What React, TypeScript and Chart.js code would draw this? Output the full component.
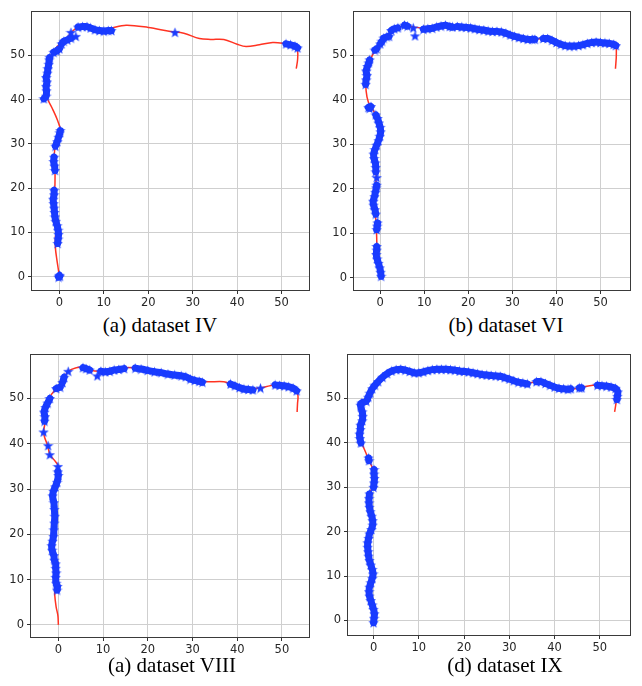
import React, { useEffect, useRef } from "react";
import { Chart, registerables } from "chart.js";

Chart.register(...registerables);

type Pt = [number, number] | null;

const xTicks = [0, 10, 20, 30, 40, 50];
const yTicks = [0, 10, 20, 30, 40, 50];
const captions = ["(a) dataset IV", "(b) dataset VI", "(a) dataset VIII", "(d) dataset IX"];

// ---------- dataset IV ----------
const truthIV: Pt[] = [
  [0, 0], [-0.3, 2], [-0.6, 4], [-0.9, 6.5], [-0.9, 9], [-0.6, 11], [-0.7, 14], [-1.1, 18], [-1.0, 21],
  [-1.0, 24], [-1.2, 27], [-0.8, 30], [0.2, 33], [-0.5, 35.5], [-1.6, 38], [-2.8, 40.5], [-3.0, 43],
  [-2.7, 46], [-2.3, 49], [-1.3, 51], [0.0, 52.5], [1.5, 53.8], [3.0, 55.5], [4.5, 56.5], [6.5, 56.3],
  [9.0, 55.6], [11.5, 56.1], [15.0, 56.8], [20.0, 56.3], [25.0, 55.4], [28.0, 55.0], [31.5, 53.8],
  [34.0, 53.6], [37.0, 53.6], [40.0, 52.5], [42.0, 52.0], [45.0, 52.4], [48.0, 52.9], [50.5, 52.7],
  [53.0, 52.2], [53.6, 51.0], [53.6, 49.0], [53.3, 47.0],
];
const starsIV: Pt[] = [
  [-0.2, -0.1], [0.1, 0.1], [0.0, 0.3], null,
  [-0.4, 7.5], [-0.3, 8.5], [-0.2, 9.5], [-0.3, 10.5], [-0.5, 11.5], [-0.8, 12.5], [-1.0, 13.5],
  [-1.1, 14.5], [-1.2, 15.5], [-1.3, 16.5], [-1.4, 17.5], [-1.2, 18.5], [-1.2, 19.5], null,
  [-1.0, 24], [-1.1, 25], [-1.3, 26], [-1.2, 27], null,
  [-0.9, 29.5], [-0.5, 30.5], [-0.2, 31.5], [0.1, 32.5], [0.2, 33], null,
  [-3.5, 40.2], [-3.0, 40.8], [-2.9, 42], [-3.0, 43], [-2.8, 44], [-3.0, 45], [-2.7, 46], [-2.6, 47],
  [-2.4, 48], [-2.3, 49], [-2.2, 49.5], null,
  [-1.3, 50.7], [-0.6, 51], [0.0, 51.5], null,
  [0.5, 52.6], [1.0, 53.2], [1.8, 53.5], [2.6, 53.9], null,
  [2.6, 55.2], null, [3.7, 54.3], null,
  [4.2, 56.4], [5.2, 56.5], [6.2, 56.5], [7.0, 56.2], [8.0, 55.8], [9.0, 55.6], [10.0, 55.5], [11.0, 55.6], [11.7, 55.6], null,
  [26.0, 55.2], null,
  [51.0, 52.6], [52.0, 52.4], [53.0, 52.1], [53.6, 51.7],
];

// ---------- dataset VI ----------
const truthVI: Pt[] = [
  [0, 0], [-0.3, 3], [-0.7, 6], [-0.8, 9], [-0.9, 12], [-1.2, 15], [-1.3, 18], [-1.0, 21], [-0.9, 24],
  [-1.1, 27], [-0.6, 30], [-0.3, 33], [-0.6, 35.5], [-1.5, 37.5], [-2.7, 39.5], [-3.2, 42], [-3.2, 44.5],
  [-2.7, 47.5], [-1.8, 50], [-0.6, 52], [1.0, 53.8], [3.0, 55.6], [5.5, 56.7], [8.0, 56.3], [11.0, 56.2],
  [14.0, 56.6], [17.0, 56.7], [20.0, 56.3], [25.0, 55.5], [28.0, 55.1], [31.5, 53.9], [34.0, 53.6],
  [37.0, 53.7], [40.0, 52.6], [42.0, 52.1], [45.0, 52.3], [48.0, 52.9], [51.0, 52.7], [53.3, 52.3],
  [53.6, 50.5], [53.4, 47.0],
];
const starsVI: Pt[] = [
  [0.2, 0.3], [0.1, 1.2], [-0.1, 2.2], [-0.4, 3.2], [-0.7, 4.2], [-0.9, 5.2], [-0.8, 6.2], [-0.8, 7.0], null,
  [-0.8, 10.8], [-0.7, 11.6], [-0.6, 12.3], null,
  [-1.0, 14.3], [-1.2, 15.3], [-1.5, 16.3], [-1.6, 17.2], [-1.3, 18.2], [-1.1, 19.2], [-0.9, 20.2], [-0.8, 20.8], null,
  [-0.8, 22.5], null,
  [-1.0, 23.8], [-1.0, 24.8], [-1.1, 25.8], [-1.4, 26.8], [-1.5, 27.8], [-1.2, 28.8], [-0.8, 29.8],
  [-0.4, 30.8], [-0.1, 31.8], [0.1, 32.8], [0.0, 33.8], [-0.3, 34.8], [-0.6, 35.8], [-1.0, 36.6], null,
  [-2.7, 38.3], [-2.4, 38.1], [-2.1, 38.5], null,
  [-3.3, 43.5], [-3.2, 44.5], [-3.0, 45.5], [-3.2, 46.5], [-2.9, 47.5], [-2.6, 48.3], [-2.4, 49], null,
  [-1.2, 51.2], [-0.8, 51.5], null,
  [0.0, 52.6], [0.4, 53.2], null,
  [0.8, 53.9], [1.5, 54.2], [2.0, 54.3], null,
  [2.5, 55.6], [3.2, 56.0], [4.0, 56.2], null,
  [5.5, 56.8], [6.2, 56.6], null, [7.5, 56.2], null, [7.9, 54.4], null,
  [9.8, 55.9], [10.8, 56.0], [11.8, 56.1], [12.8, 56.4], [13.8, 56.6], [14.8, 56.8], [15.8, 56.5], [16.4, 56.4], null,
  [17.5, 56.5], [18.5, 56.4], [19.5, 56.3], [20.5, 56.2], [21.5, 56.0], [22.5, 55.8], [23.5, 55.7],
  [24.5, 55.5], [25.5, 55.4], [26.5, 55.4], [27.5, 55.3], [28.5, 55.0], [29.5, 54.6], [30.5, 54.3],
  [31.5, 54.0], [32.5, 53.8], [33.5, 53.6], [34.5, 53.6], [35.1, 53.6], null,
  [37.0, 53.8], [38.0, 53.8], [39.0, 53.4], [40.0, 52.9], [41.0, 52.5], [42.0, 52.2], [43.0, 52.1],
  [44.0, 52.1], [45.0, 52.2], [46.0, 52.4], [47.0, 52.7], [48.0, 52.9], [49.0, 53.0], [50.0, 52.9],
  [51.0, 52.8], [52.0, 52.7], [53.0, 52.5], [53.5, 52.2],
];

// ---------- dataset VIII ----------
const truthVIII: Pt[] = [
  [0, 0], [-0.1, 2], [-0.5, 4], [-0.8, 6.5], [-0.8, 9], [-0.7, 12], [-0.9, 15], [-1.2, 18], [-1.0, 21],
  [-0.8, 24], [-0.9, 27], [-0.7, 30], [-0.2, 33], [0.0, 35], [-1.0, 36.5], [-1.9, 37.6], [-2.4, 39.6],
  [-3.1, 41.5], [-3.3, 42.6], [-3.0, 44.5], [-2.7, 47], [-2.0, 50], [-0.8, 51.8], [0.5, 52.6],
  [1.1, 54.2], [2.2, 56], [4.0, 56.8], [5.5, 56.8], [7.0, 56.3], [9.0, 56.0], [12.0, 56.2], [15.0, 56.8],
  [17.5, 56.7], [20.0, 56.2], [25.0, 55.4], [28.0, 55.0], [31.0, 54.2], [33.0, 53.7], [37.0, 53.7],
  [39.0, 53.0], [42.0, 52.1], [44.0, 52.2], [46.0, 52.5], [48.5, 53.0], [51.0, 52.6], [53.2, 51.8],
  [53.6, 50.5], [53.5, 49.0], [53.4, 47.0],
];
const starsVIII: Pt[] = [
  [-0.3, 7.7], [-0.2, 8.5], [-0.5, 9.2], [-0.6, 10.5], [-0.5, 11.5], [-0.6, 12.5], [-0.6, 13.5], [-0.9, 14.3],
  [-1.0, 15.3], [-1.4, 16.5], [-1.5, 17.5], [-1.3, 18.5], [-1.1, 19.5], [-1.0, 21], [-0.9, 22.5],
  [-0.8, 24], [-0.9, 25.5], [-1.0, 27], [-1.3, 28.5], [-1.1, 29.5], [-0.7, 30.5], [-0.3, 31.5],
  [0.0, 33], [-0.1, 33.8], null,
  [-0.1, 35], null, [-1.9, 37.6], null, [-2.3, 39.6], null, [-3.3, 42.6], null,
  [-3.1, 45], [-3.0, 46], [-3.2, 47], [-2.9, 48], [-2.4, 49], [-1.9, 50], null,
  [-0.5, 52.2], [0.4, 52.5], null, [0.9, 53.5], [1.3, 54.7], null, [2.2, 56], null,
  [5.5, 56.8], [6.2, 56.6], [7.0, 56.3], null,
  [8.7, 55.0], null,
  [9.5, 56.0], [10.5, 55.9], [11.5, 56.0], [12.5, 56.3], [13.5, 56.4], [14.7, 56.6], null,
  [17.2, 56.7], [18.5, 56.5], [20.0, 56.2], [21.5, 55.9], [23.0, 55.7], [24.5, 55.4], [26.0, 55.2],
  [27.5, 55.0], [28.5, 54.8], [29.5, 54.3], [30.5, 54.0], [31.5, 53.8], [32.2, 53.6], null,
  [38.5, 53.2], [39.5, 52.8], [40.5, 52.4], [41.5, 52.1], [42.5, 52.0], [43.5, 51.9], null,
  [45.2, 52.3], null,
  [48.5, 53.0], [49.5, 52.9], [50.5, 52.8], [51.5, 52.6], [52.5, 52.3], [53.3, 51.7],
];

// ---------- dataset IX ----------
const truthIX: Pt[] = [
  [0, 0], [0, 2], [-0.5, 4.5], [-0.9, 6.5], [-0.5, 8.5], [-0.1, 10.5], [-0.6, 13], [-1.1, 15.5],
  [-1.2, 18], [-0.6, 20.5], [-0.2, 22.5], [-0.6, 25], [-0.9, 27.5], [-0.7, 29], [0.0, 30.5], [0.1, 33],
  [-0.3, 34.5], [-1.0, 36], [-1.8, 38], [-2.6, 40], [-3.0, 42], [-2.8, 44], [-2.5, 46], [-2.7, 48],
  [-2.2, 49.3], [-1.0, 51], [0.3, 53], [2.0, 54.8], [4.0, 56.2], [6.0, 56.6], [8.0, 56.1], [10.0, 55.8],
  [12.0, 56.3], [15.0, 56.6], [18.0, 56.4], [21.0, 56.0], [25.0, 55.3], [28.0, 55.0], [31.0, 54.0],
  [33.0, 53.5], [35.0, 53.6], [37.0, 53.8], [40.0, 52.6], [43.0, 52.1], [44.5, 52.2], [46.0, 52.5],
  [48.5, 53.0], [51.0, 52.8], [53.3, 52.3], [53.9, 51.0], [53.7, 49.5], [53.3, 47.0],
];
const starsIX: Pt[] = [
  [0.0, -0.5], [0.1, 0.5], [0.2, 1.5], [0.0, 2.5], [-0.3, 3.5], [-0.6, 4.5], [-0.9, 5.5], [-1.0, 6.5],
  [-0.9, 7.5], [-0.6, 8.5], [-0.3, 9.5], [-0.1, 10.5], [-0.3, 11.5], [-0.6, 12.5], [-0.9, 13.5],
  [-1.1, 14.5], [-1.2, 15.5], [-1.3, 16.5], [-1.3, 17.5], [-1.1, 18.5], [-0.9, 19.5], [-0.5, 20.5],
  [-0.2, 21.5], [-0.2, 22.5], [-0.4, 23.5], [-0.7, 24.5], [-0.9, 25.5], [-1.0, 26.5], [-1.0, 27.5],
  [-0.9, 28.5], null,
  [0.0, 30], [0.1, 31], [0.2, 32], [0.1, 33], [0.1, 34], null,
  [-1.0, 36], [-1.1, 36.6], null,
  [-2.8, 40], [-3.0, 41], [-3.1, 42], [-2.9, 43], [-2.9, 44], [-2.5, 45], [-2.4, 46], [-2.5, 47],
  [-2.9, 48.5], [-2.6, 49], [-1.6, 49.4], [-1.2, 50.3], [-0.8, 51.2], [-0.3, 52.2], [0.3, 53],
  [1.0, 53.8], [2.0, 54.8], [3.0, 55.6], [4.0, 56.2], [5.0, 56.5], [6.0, 56.6], [7.0, 56.4], [8.0, 56.1],
  [9.0, 55.8], [10.0, 55.8], [11.0, 56.0], [12.0, 56.3], [13.0, 56.5], [14.0, 56.6], [15.0, 56.6],
  [16.0, 56.6], [17.0, 56.5], [18.0, 56.4], [19.0, 56.2], [20.0, 56.1], [21.0, 56.0], [22.0, 55.8],
  [23.0, 55.6], [24.0, 55.4], [25.0, 55.3], [26.0, 55.2], [27.0, 55.1], [28.0, 55.0], [29.0, 54.7],
  [30.0, 54.4], [31.0, 54.0], [32.0, 53.7], [33.0, 53.5], [34.0, 53.3], null,
  [36.0, 53.8], [37.0, 53.8], [38.0, 53.4], [39.0, 53.0], [40.0, 52.6], [41.0, 52.3], [42.0, 52.2],
  [43.0, 52.1], [43.6, 52.2], null,
  [45.5, 52.4], [46.0, 52.4], null,
  [49.5, 53.0], [50.5, 52.9], [51.5, 52.8], [52.5, 52.6], [53.5, 52.3], [54.0, 51.5], [53.9, 50.5], [53.8, 49.8],
];

const truths = [truthIV, truthVI, truthVIII, truthIX];
const stars = [starsIV, starsVI, starsVIII, starsIX];
const xRanges: [number, number][] = [[-6.17, 56.17], [-5.95, 56.7], [-6.12, 56.06], [-5.65, 56.7]];
const yRanges: [number, number][] = [[-3.03, 59.8], [-2.8, 59.76], [-2.67, 59.6], [-3.28, 59.8]];

// layout (pixels) for each panel: canvas box + plot-area offsets
const LAYOUT = [
  { left: 0, top: 0, w: 321, h: 312, yW: 32, padTop: 6, padRight: 6, xH: 22, capX: 160, capTop: 315 },
  { left: 321, top: 0, w: 321, h: 312, yW: 33, padTop: 6, padRight: 4, xH: 22, capX: 506, capTop: 315 },
  { left: 0, top: 343, w: 321, h: 316, yW: 31, padTop: 7, padRight: 6, xH: 22, capX: 172, capTop: 655 },
  { left: 321, top: 343, w: 321, h: 314, yW: 27, padTop: 4, padRight: 7, xH: 22, capX: 505, capTop: 655 },
];

const BLUE = "#1a3cff";
const RED = "#ff3322";

function toPoints(list: Pt[]) {
  return list.map((p) => (p === null ? { x: null, y: null } : { x: p[0], y: p[1] }));
}

function makeStar(size: number, color: string) {
  const c = document.createElement("canvas");
  c.width = size;
  c.height = size;
  const ctx = c.getContext("2d")!;
  const cx = size / 2, cy = size / 2 + 0.5, ro = size / 2, ri = ro * 0.42;
  ctx.beginPath();
  for (let i = 0; i < 10; i++) {
    const r = i % 2 === 0 ? ro : ri;
    const a = -Math.PI / 2 + (i * Math.PI) / 5;
    const px = cx + r * Math.cos(a), py = cy + r * Math.sin(a);
    if (i === 0) ctx.moveTo(px, py); else ctx.lineTo(px, py);
  }
  ctx.closePath();
  ctx.fillStyle = color;
  ctx.fill();
  return c;
}

const framePlugin = {
  id: "frame",
  afterDatasetsDraw(chart: any) {
    const { ctx, chartArea: a } = chart;
    ctx.save();
    ctx.strokeStyle = "#3a3a3a";
    ctx.lineWidth = 1;
    ctx.strokeRect(Math.round(a.left) - 0.5, Math.round(a.top) - 0.5, Math.round(a.right - a.left) + 1, Math.round(a.bottom - a.top) + 1);
    ctx.restore();
  },
};

function Panel({ idx }: { idx: number }) {
  const ref = useRef<HTMLCanvasElement>(null);
  const L = LAYOUT[idx];
  useEffect(() => {
    const star = makeStar(11, BLUE);
    const tickFont = { family: "'DejaVu Sans', sans-serif", size: 11.5 };
    const gridOpts = { color: "#cfcfcf", lineWidth: 1, tickColor: "#333", tickLength: 4, drawTicks: true };
    const chart = new Chart(ref.current!, {
      type: "line",
      data: {
        datasets: [
          {
            data: toPoints(stars[idx]) as any,
            borderColor: BLUE,
            backgroundColor: BLUE,
            borderWidth: 7,
            borderCapStyle: "round",
            borderJoinStyle: "round",
            pointStyle: star as any,
            pointRadius: 5,
            pointHoverRadius: 5,
            tension: 0.3,
            spanGaps: false,
            order: 0,
          },
          {
            data: toPoints(truths[idx]) as any,
            borderColor: RED,
            borderWidth: 1.5,
            pointRadius: 0,
            tension: 0.35,
            order: 1,
          },
        ],
      },
      options: {
        animation: false,
        responsive: false,
        events: [],
        layout: { padding: { left: 0, top: L.padTop, right: L.padRight, bottom: 0 } },
        plugins: { legend: { display: false }, tooltip: { enabled: false } },
        scales: {
          x: {
            type: "linear",
            min: xRanges[idx][0],
            max: xRanges[idx][1],
            afterFit: (s: any) => { s.height = L.xH; },
            afterBuildTicks: (s: any) => { s.ticks = xTicks.map((v) => ({ value: v })); },
            grid: gridOpts,
            border: { display: false },
            ticks: { font: tickFont, color: "#262626", padding: 2, maxRotation: 0, autoSkip: false },
          },
          y: {
            type: "linear",
            min: yRanges[idx][0],
            max: yRanges[idx][1],
            afterFit: (s: any) => { s.width = L.yW; },
            afterBuildTicks: (s: any) => { s.ticks = yTicks.map((v) => ({ value: v })); },
            grid: gridOpts,
            border: { display: false },
            ticks: { font: tickFont, color: "#262626", padding: 3, autoSkip: false },
          },
        },
      },
      plugins: [framePlugin],
    });
    return () => chart.destroy();
  }, []);
  return (
    <>
      <canvas
        ref={ref}
        width={L.w}
        height={L.h}
        style={{ position: "absolute", left: L.left, top: L.top, width: L.w, height: L.h }}
      />
      <div
        style={{
          position: "absolute",
          left: L.capX - 120,
          top: L.capTop,
          width: 240,
          textAlign: "center",
          fontFamily: "'Liberation Serif', 'Times New Roman', serif",
          fontSize: 21,
          lineHeight: "21px",
          color: "#000",
          whiteSpace: "nowrap",
        }}
      >
        {captions[idx]}
      </div>
    </>
  );
}

export default function App() {
  return (
    <div style={{ position: "absolute", left: 0, top: 0, width: 642, height: 686, background: "#fff", overflow: "hidden" }}>
      {[0, 1, 2, 3].map((i) => (
        <Panel key={i} idx={i} />
      ))}
    </div>
  );
}
